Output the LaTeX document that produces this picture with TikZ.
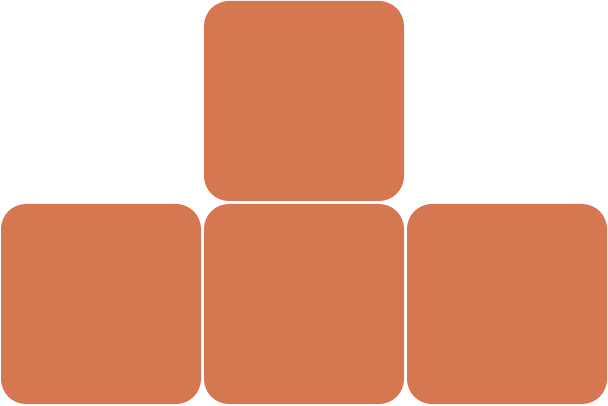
\documentclass[tikz,border=0pt]{standalone}
\usetikzlibrary{positioning}
\definecolor{tileorange}{RGB}{213,120,82}

\begin{document}
\begin{tikzpicture}[x=1pt, y=1pt, node distance=3pt,
    every node/.style={rectangle, rounded corners=25pt, fill=tileorange, minimum size=200pt, inner sep=0pt, outer sep=0pt}]

            \useasboundingbox (0,0) rectangle (608,405);

            % Tiles
            \node (mid) at (304,101) {};
            \node[left=of mid] (left) {};
            \node[right=of mid] (right) {};
            \node[above=of mid] (top) {};
            \end{tikzpicture}
\end{document}
